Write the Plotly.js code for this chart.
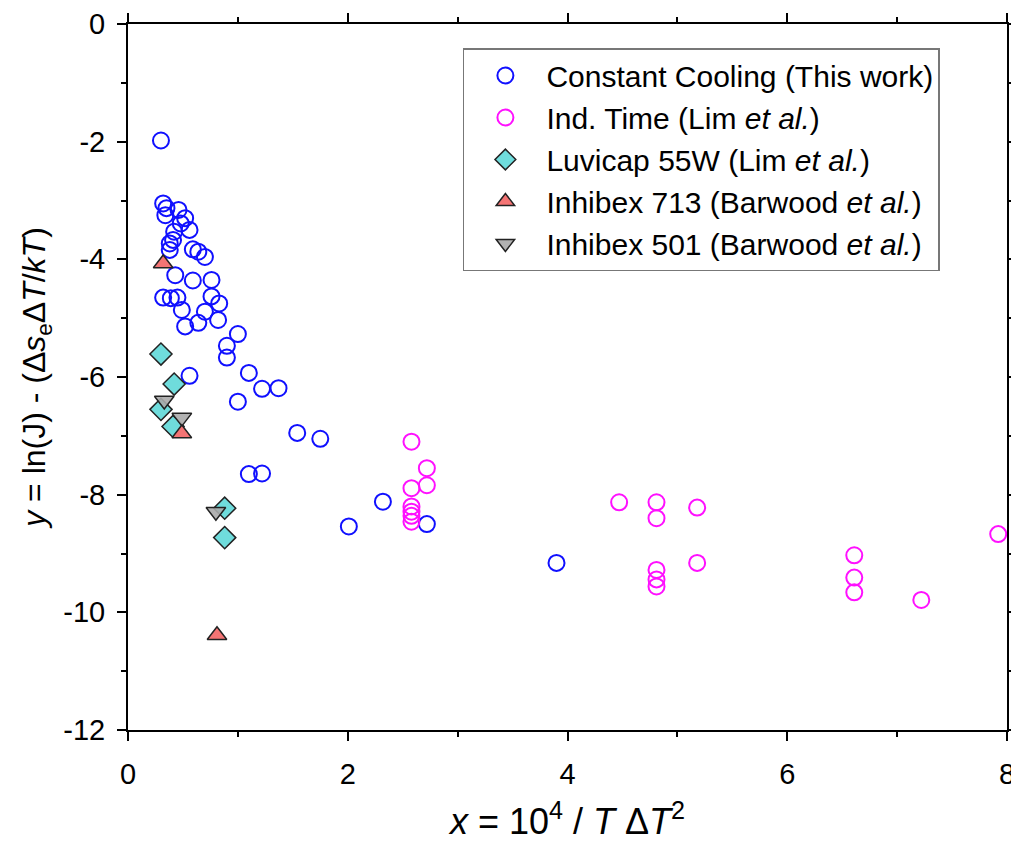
<!DOCTYPE html>
<html>
<head>
<meta charset="utf-8">
<script src="https://cdn.plot.ly/plotly-3.0.1.min.js"></script>
<style>html,body{margin:0;padding:0;background:#fff;}#chart{width:1011px;height:843px;}</style>
</head>
<body>
<div id="chart"></div>
<script>
// Constant Cooling (This work)
const ccX = [0.30, 0.32, 0.35, 0.34, 0.46, 0.52, 0.48, 0.56, 0.42, 0.41, 0.38, 0.38, 0.59, 0.64, 0.70, 0.43, 0.59, 0.76, 0.32, 0.39, 0.45, 0.76, 0.49, 0.70, 0.83, 0.82, 0.52, 0.64, 1.00, 0.90, 0.90, 0.56, 1.10, 1.22, 1.37, 1.00, 1.54, 1.75, 1.10, 1.22, 2.32, 2.01, 2.72, 3.90];
const ccY = [-1.98, -3.05, -3.13, -3.25, -3.16, -3.30, -3.39, -3.50, -3.53, -3.67, -3.73, -3.84, -3.83, -3.87, -3.96, -4.27, -4.36, -4.35, -4.65, -4.66, -4.65, -4.63, -4.86, -4.89, -4.75, -5.03, -5.14, -5.08, -5.27, -5.47, -5.67, -5.98, -5.93, -6.20, -6.19, -6.42, -6.95, -7.05, -7.65, -7.64, -8.12, -8.54, -8.50, -9.16];
// Ind. Time (Lim et al.)
const itX = [2.58, 2.72, 2.72, 2.58, 2.58, 2.58, 2.58, 2.58, 4.47, 4.81, 4.81, 5.18, 5.18, 4.81, 4.81, 4.81, 6.61, 6.61, 6.61, 7.22, 7.92];
const itY = [-7.10, -7.55, -7.84, -7.89, -8.20, -8.29, -8.36, -8.46, -8.13, -8.13, -8.40, -8.22, -9.16, -9.28, -9.44, -9.56, -9.03, -9.41, -9.66, -9.79, -8.67];
// Luvicap 55W (Lim et al.)
const luX = [0.30, 0.42, 0.30, 0.41, 0.88, 0.88];
const luY = [-5.61, -6.12, -6.55, -6.84, -8.23, -8.73];
// Inhibex 713 (Barwood et al.)
const i713X = [0.32, 0.49, 0.81];
const i713Y = [-4.07, -6.96, -10.39];
// Inhibex 501 (Barwood et al.)
const i501X = [0.33, 0.49, 0.80];
const i501Y = [-6.40, -6.69, -8.29];

// Tick labels (hyphen minus as in the original)
const xTickVals = [0, 2, 4, 6, 8];
const xTickText = ['0', '2', '4', '6', '8'];
const yTickVals = [0, -2, -4, -6, -8, -10, -12];
const yTickText = ['0', '-2', '-4', '-6', '-8', '-10', '-12'];

const names = [
  'Constant Cooling (This work)',
  'Ind. Time (Lim <i>et al.</i>)',
  'Luvicap 55W (Lim <i>et al.</i>)',
  'Inhibex 713 (Barwood <i>et al.</i>)',
  'Inhibex 501 (Barwood <i>et al.</i>)'
];

const traces = [
  {x: ccX, y: ccY, name: names[0], legendrank: 1, mode: 'markers', type: 'scatter',
   marker: {symbol: 'circle-open', size: 16, color: '#1010ff', line: {width: 2, color: '#1010ff'}}},
  {x: itX, y: itY, name: names[1], legendrank: 2, mode: 'markers', type: 'scatter',
   marker: {symbol: 'circle-open', size: 16, color: '#ff10ff', line: {width: 2, color: '#ff10ff'}}},
  {x: luX, y: luY, name: names[2], legendrank: 3, mode: 'markers', type: 'scatter',
   marker: {symbol: 'diamond', size: 17, color: '#6fdcdc', line: {width: 1.5, color: '#222'}}},
  {x: i501X, y: i501Y, name: names[4], legendrank: 5, mode: 'markers', type: 'scatter',
   marker: {symbol: 'triangle-down', size: 17, color: 'rgba(170,170,170,0.9)', line: {width: 1.5, color: '#222'}}},
  {x: i713X, y: i713Y, name: names[3], legendrank: 4, mode: 'markers', type: 'scatter',
   marker: {symbol: 'triangle-up', size: 17, color: '#f47474', line: {width: 1.5, color: '#222'}}}
];

const font = 'Liberation Sans, Arial, sans-serif';
const layout = {
  width: 1011, height: 843,
  margin: {l: 128, r: 4, t: 24, b: 113},
  paper_bgcolor: '#fff', plot_bgcolor: '#fff',
  font: {family: font, color: '#000', size: 29},
  showlegend: true,
  legend: {
    x: 0.381, y: 0.966, xanchor: 'left', yanchor: 'top',
    bgcolor: '#fff', bordercolor: '#777', borderwidth: 1.5,
    font: {family: font, size: 30, color: '#000'},
    traceorder: 'normal',
    itemwidth: 72
  },
  xaxis: {
    range: [0, 8], tickmode: 'array', tickvals: xTickVals, ticktext: xTickText,
    showgrid: false, zeroline: false,
    showline: true, linecolor: '#000', linewidth: 2, mirror: 'ticks',
    ticks: 'outside', ticklen: 9, tickwidth: 2, tickcolor: '#000',
    tickfont: {size: 29, family: font}, ticklabelstandoff: 8, ticklabeloverflow: 'allow',
    minor: {dtick: 1, tick0: 0, ticks: 'outside', ticklen: 5, tickwidth: 2, tickcolor: '#000', showgrid: false},
    title: {text: '<i>x</i> = 10<sup>4</sup> / <i>T</i> Δ<i>T</i><sup>2</sup>', font: {size: 36, family: font}, standoff: 20}
  },
  yaxis: {
    range: [-12, 0], tickmode: 'array', tickvals: yTickVals, ticktext: yTickText,
    showgrid: false, zeroline: false,
    showline: true, linecolor: '#000', linewidth: 2, mirror: 'ticks',
    ticks: 'outside', ticklen: 9, tickwidth: 2, tickcolor: '#000',
    tickfont: {size: 29, family: font}, ticklabelstandoff: 6, ticklabeloverflow: 'allow',
    minor: {dtick: 1, tick0: 0, ticks: 'outside', ticklen: 5, tickwidth: 2, tickcolor: '#000', showgrid: false},
    title: {text: '<i>y</i> = ln(J) - (Δ<i>s</i><sub>e</sub>Δ<i>T</i>/<i>kT</i>)', font: {size: 32, family: font}, standoff: 8}
  }
};

Plotly.newPlot('chart', traces, layout, {displayModeBar: false, staticPlot: true});
</script>
</body>
</html>
